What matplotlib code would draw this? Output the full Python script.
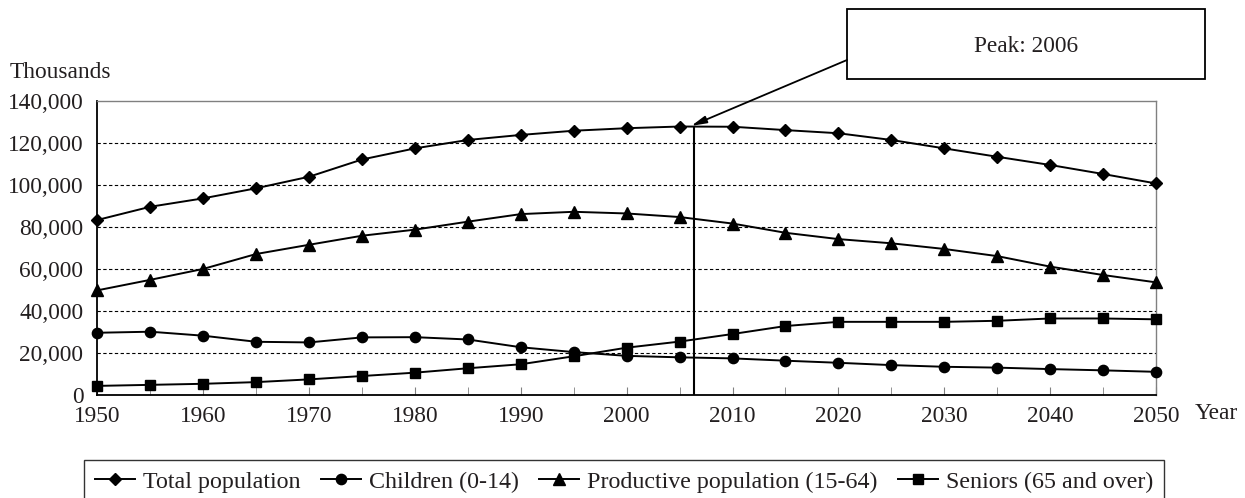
import numpy as np
import matplotlib
matplotlib.use("Agg")
import matplotlib.pyplot as plt
from matplotlib.patches import Rectangle
from matplotlib.ticker import FuncFormatter, MultipleLocator

plt.rcParams['font.family'] = ['Liberation Serif', 'DejaVu Serif']

years = [1950, 1955, 1960, 1965, 1970, 1975, 1980, 1985, 1990, 1995, 2000,
         2005, 2010, 2015, 2020, 2025, 2030, 2035, 2040, 2045, 2050]
total = [83200, 89500, 93500, 98300, 103800, 112000, 117300, 121300, 123700,
         125700, 126900, 127700, 127600, 126000, 124500, 121300, 117300,
         113300, 109400, 105100, 100600]
children = [29500, 30000, 28100, 25200, 24900, 27300, 27400, 26300, 22600,
            20300, 18500, 17800, 17300, 16200, 15200, 14100, 13300, 12900,
            12200, 11600, 10900]
productive = [49700, 54700, 59900, 67000, 71400, 75700, 78600, 82400, 86000,
              87100, 86300, 84600, 81500, 77100, 74100, 72100, 69400, 66000,
              61000, 57000, 53500]
seniors = [4200, 4700, 5200, 6000, 7300, 8900, 10500, 12600, 14500, 18300,
           22400, 25300, 28900, 32700, 34700, 34700, 34700, 35200, 36300,
           36300, 35900]
peak_year = 2006.4
peak_value = 127700

fig = plt.figure(figsize=(12.45, 4.98), dpi=100)
ax = fig.add_axes([0.0782, 0.2074, 0.8503, 0.5904])

fs = 16.8
txt = '#231f20'

ax.set_xlim(1950, 2050)
ax.set_ylim(0, 140000)
ax.yaxis.set_major_locator(MultipleLocator(20000))
ax.yaxis.set_major_formatter(FuncFormatter(lambda v, p: f"{int(v):,}"))
ax.xaxis.set_major_locator(MultipleLocator(10))
ax.xaxis.set_minor_locator(MultipleLocator(5))

for v in range(20000, 140000, 20000):
    ax.axhline(v, color='black', lw=0.8, dashes=(3, 2.2), zorder=1)

styles = [(total, 'D', 6.4, 'Total population'),
          (children, 'o', 7.4, 'Children (0-14)'),
          (productive, '^', 8.4, 'Productive population (15-64)'),
          (seniors, 's', 7.2, 'Seniors (65 and over)')]
handles = []
for vals, mk, ms, lab in styles:
    h, = ax.plot(years, vals, color='black', lw=1.4, marker=mk, ms=ms,
                 label=lab, clip_on=False, zorder=3)
    handles.append(h)

ax.plot([peak_year, peak_year], [0, peak_value], color='black', lw=1.5, zorder=2)

for side in ['top', 'right']:
    ax.spines[side].set_color('#808080')
    ax.spines[side].set_linewidth(1.0)
for side in ['left', 'bottom']:
    ax.spines[side].set_color('black')
    ax.spines[side].set_linewidth(1.3)

ax.tick_params(axis='x', which='both', direction='in', length=5.5,
               color='#808080', labelsize=fs, labelcolor=txt, pad=8)
ax.tick_params(axis='y', length=0, labelsize=fs, labelcolor=txt, pad=10)

fig.text(10 / 1245, 1 - 72 / 498, 'Thousands', fontsize=fs, color=txt,
         va='center', ha='left')
fig.text(1195 / 1245, 1 - 413 / 498, 'Year', fontsize=fs, color=txt,
         va='center', ha='left')

# callout box
box = Rectangle((847 / 1245, 1 - 79 / 498), 358 / 1245, 70 / 498,
                transform=fig.transFigure, fill=False, edgecolor='black',
                lw=1.3)
fig.add_artist(box)
fig.text(1026 / 1245, 1 - 46 / 498, 'Peak: 2006', fontsize=fs, color=txt,
         ha='center', va='center')
ax.annotate('', xy=(peak_year - 0.3, peak_value + 300), xycoords='data',
            xytext=(847, 498 - 60), textcoords='figure pixels',
            arrowprops=dict(arrowstyle='-|>,head_length=0.9,head_width=0.22',
                            color='black', lw=1.3, shrinkA=0, shrinkB=0),
            annotation_clip=False)

leg = fig.legend(handles=handles, loc='upper left', ncol=4,
                 bbox_to_anchor=(84 / 1245, 1 - 460 / 498), fontsize=17.3,
                 frameon=True, fancybox=False, handlelength=1.67,
                 handletextpad=0.33, columnspacing=0.85, borderaxespad=0,
                 borderpad=0.45, labelcolor=txt)
leg.get_frame().set_edgecolor('black')
leg.get_frame().set_linewidth(1.0)

fig.savefig('out.png', dpi=100)
